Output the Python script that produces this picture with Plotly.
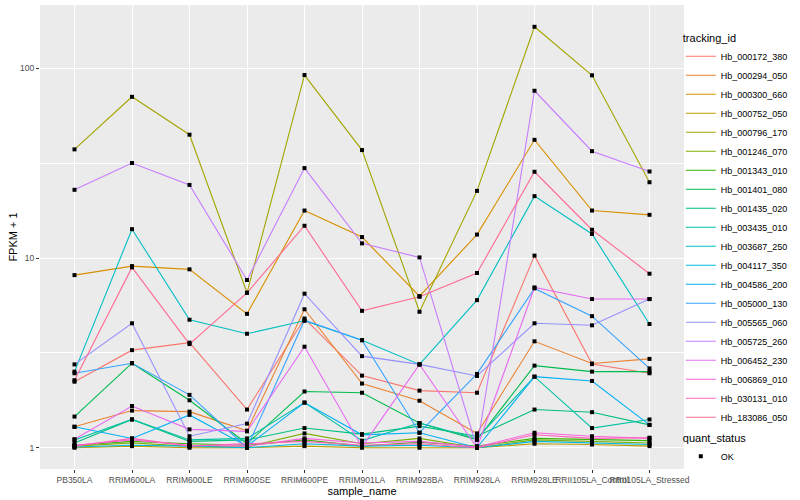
import plotly.graph_objects as go

samples = ["PB350LA", "RRIM600LA", "RRIM600LE", "RRIM600SE", "RRIM600PE", "RRIM901LA",
           "RRIM928BA", "RRIM928LA", "RRIM928LE", "RRII105LA_Control", "RRII105LA_Stressed"]

# FPKM + 1 values per tracking_id, in sample order
hb_000172_380 = [2.23, 3.27, 3.58, 1.59, 4.80, 2.40, 2.00, 1.95, 10.3, 2.76, 2.47]
hb_000294_050 = [1.29, 1.57, 1.55, 1.23, 5.37, 2.18, 1.77, 1.19, 3.64, 2.78, 2.94]
hb_000300_660 = [8.13, 9.07, 8.72, 5.08, 17.8, 12.9, 6.30, 13.3, 42.0, 17.8, 16.9]
hb_000752_050 = [1.00, 1.02, 1.00, 1.00, 1.02, 1.00, 1.00, 1.00, 1.05, 1.04, 1.02]
hb_000796_170 = [37.4, 70.8, 44.7, 6.56, 92.2, 37.1, 5.21, 22.6, 165.6, 91.9, 25.1]
hb_001246_070 = [1.02, 1.06, 1.02, 1.01, 1.19, 1.05, 1.12, 1.00, 1.10, 1.08, 1.06]
hb_001343_010 = [1.03, 1.08, 1.05, 1.03, 1.10, 1.02, 1.07, 1.02, 1.12, 1.10, 1.09]
hb_001401_080 = [1.46, 2.79, 1.78, 1.05, 1.98, 1.95, 1.35, 1.10, 2.71, 2.52, 2.52]
hb_001435_020 = [1.06, 1.41, 1.08, 1.10, 1.27, 1.18, 1.30, 1.15, 1.59, 1.54, 1.32]
hb_003435_010 = [1.10, 1.41, 1.10, 1.12, 1.73, 1.09, 1.35, 1.12, 2.37, 1.27, 1.41]
hb_003687_250 = [2.52, 14.2, 4.73, 3.99, 4.67, 3.69, 2.75, 6.00, 21.2, 13.4, 4.49]
hb_004117_350 = [1.01, 1.03, 1.02, 1.00, 1.05, 1.02, 1.03, 1.00, 1.08, 1.06, 1.04]
hb_004586_200 = [1.29, 1.12, 1.49, 1.02, 1.73, 1.17, 1.20, 1.00, 2.37, 2.25, 1.32]
hb_005000_130 = [2.47, 2.79, 1.90, 1.00, 4.70, 3.69, 1.20, 2.45, 6.92, 4.94, 2.62]
hb_005565_060 = [2.75, 4.53, 1.15, 1.34, 6.49, 3.04, 2.75, 2.39, 4.53, 4.42, 6.08]
hb_005725_260 = [22.9, 31.7, 24.3, 7.66, 29.8, 11.95, 10.08, 1.00, 76.2, 36.6, 28.6]
hb_006452_230 = [1.11, 1.66, 1.25, 1.22, 3.41, 1.01, 2.75, 1.00, 7.00, 6.08, 6.08]
hb_006869_010 = [1.03, 1.10, 1.03, 1.02, 1.12, 1.06, 1.08, 1.01, 1.20, 1.15, 1.12]
hb_030131_010 = [1.02, 1.12, 1.02, 1.05, 1.08, 1.03, 1.05, 1.00, 1.17, 1.12, 1.13]
hb_183086_050 = [2.27, 8.93, 3.52, 6.56, 14.8, 5.27, 6.25, 8.34, 28.5, 14.1, 8.27]

tracking_ids = ["Hb_000172_380", "Hb_000294_050", "Hb_000300_660", "Hb_000752_050",
                "Hb_000796_170", "Hb_001246_070", "Hb_001343_010", "Hb_001401_080",
                "Hb_001435_020", "Hb_003435_010", "Hb_003687_250", "Hb_004117_350",
                "Hb_004586_200", "Hb_005000_130", "Hb_005565_060", "Hb_005725_260",
                "Hb_006452_230", "Hb_006869_010", "Hb_030131_010", "Hb_183086_050"]

series_values = [hb_000172_380, hb_000294_050, hb_000300_660, hb_000752_050,
                 hb_000796_170, hb_001246_070, hb_001343_010, hb_001401_080,
                 hb_001435_020, hb_003435_010, hb_003687_250, hb_004117_350,
                 hb_004586_200, hb_005000_130, hb_005565_060, hb_005725_260,
                 hb_006452_230, hb_006869_010, hb_030131_010, hb_183086_050]

colors = ["#F8766D", "#EA8331", "#D89000", "#C09B00", "#A3A500", "#7CAE00", "#39B600",
          "#00BB4E", "#00BF7D", "#00C1A3", "#00BFC4", "#00BAE0", "#00B0F6", "#35A2FF",
          "#9590FF", "#C77CFF", "#E76BF3", "#FA62DB", "#FF62BC", "#FF6C91"]

quant_status = "OK"

FONT = "Liberation Sans, Arial, sans-serif"

fig = go.Figure()

for tid, vals, col in zip(tracking_ids, series_values, colors):
    fig.add_trace(go.Scatter(
        x=samples, y=vals, mode="lines", name=tid,
        line=dict(color=col, width=1.1),
        legend="legend",
    ))

all_x = [s for _ in series_values for s in samples]
all_y = [v for vals in series_values for v in vals]
fig.add_trace(go.Scatter(
    x=all_x, y=all_y, mode="markers", name=quant_status,
    marker=dict(color="black", symbol="square", size=4, line=dict(width=0)),
    legend="legend2",
))

fig.update_layout(
    width=800, height=500,
    margin=dict(l=40, r=116, t=5, b=31, autoexpand=False),
    paper_bgcolor="white",
    plot_bgcolor="#EBEBEB",
    font=dict(family=FONT, size=9, color="#4D4D4D"),
    showlegend=True,
    legend=dict(
        title=dict(text="tracking_id", font=dict(size=11, color="black")),
        xref="container", yref="container",
        x=0.851, xanchor="left", y=0.945, yanchor="top",
        font=dict(size=9, color="black"),
        bgcolor="rgba(0,0,0,0)", itemwidth=30, tracegroupgap=0,
        maxheight=460,
    ),
    legend2=dict(
        title=dict(text="quant_status", font=dict(size=11, color="black")),
        xref="container", yref="container",
        x=0.851, xanchor="left", y=0.145, yanchor="top",
        font=dict(size=9, color="black"),
        bgcolor="rgba(0,0,0,0)", itemwidth=30,
    ),
)

fig.update_xaxes(
    type="category", range=[-0.6, 10.6], automargin=False,
    showgrid=True, gridcolor="white", gridwidth=1.1,
    zeroline=False, showline=False,
    ticks="outside", ticklen=3, tickcolor="#333333", tickwidth=1,
    tickangle=0, tickfont=dict(size=8.5, color="#4D4D4D"),
    title=dict(text="sample_name", font=dict(size=11, color="black"), standoff=0),
)

fig.update_yaxes(
    type="log", range=[-0.112, 2.334], automargin=False,
    tickvals=[1, 10, 100], ticktext=["1", "10", "100"],
    showgrid=True, gridcolor="white", gridwidth=1.1,
    minor=dict(tickvals=[10 ** 0.5, 10 ** 1.5], showgrid=True, gridcolor="white",
               gridwidth=0.5, ticks=""),
    zeroline=False, showline=False,
    ticks="outside", ticklen=3, tickcolor="#333333", tickwidth=1,
    tickfont=dict(size=8.5, color="#4D4D4D"),
    title=dict(text="FPKM + 1", font=dict(size=11, color="black"), standoff=0),
)

fig.write_html("out.html", config={"displayModeBar": False},
               post_script="document.body.style.margin='0px';")
